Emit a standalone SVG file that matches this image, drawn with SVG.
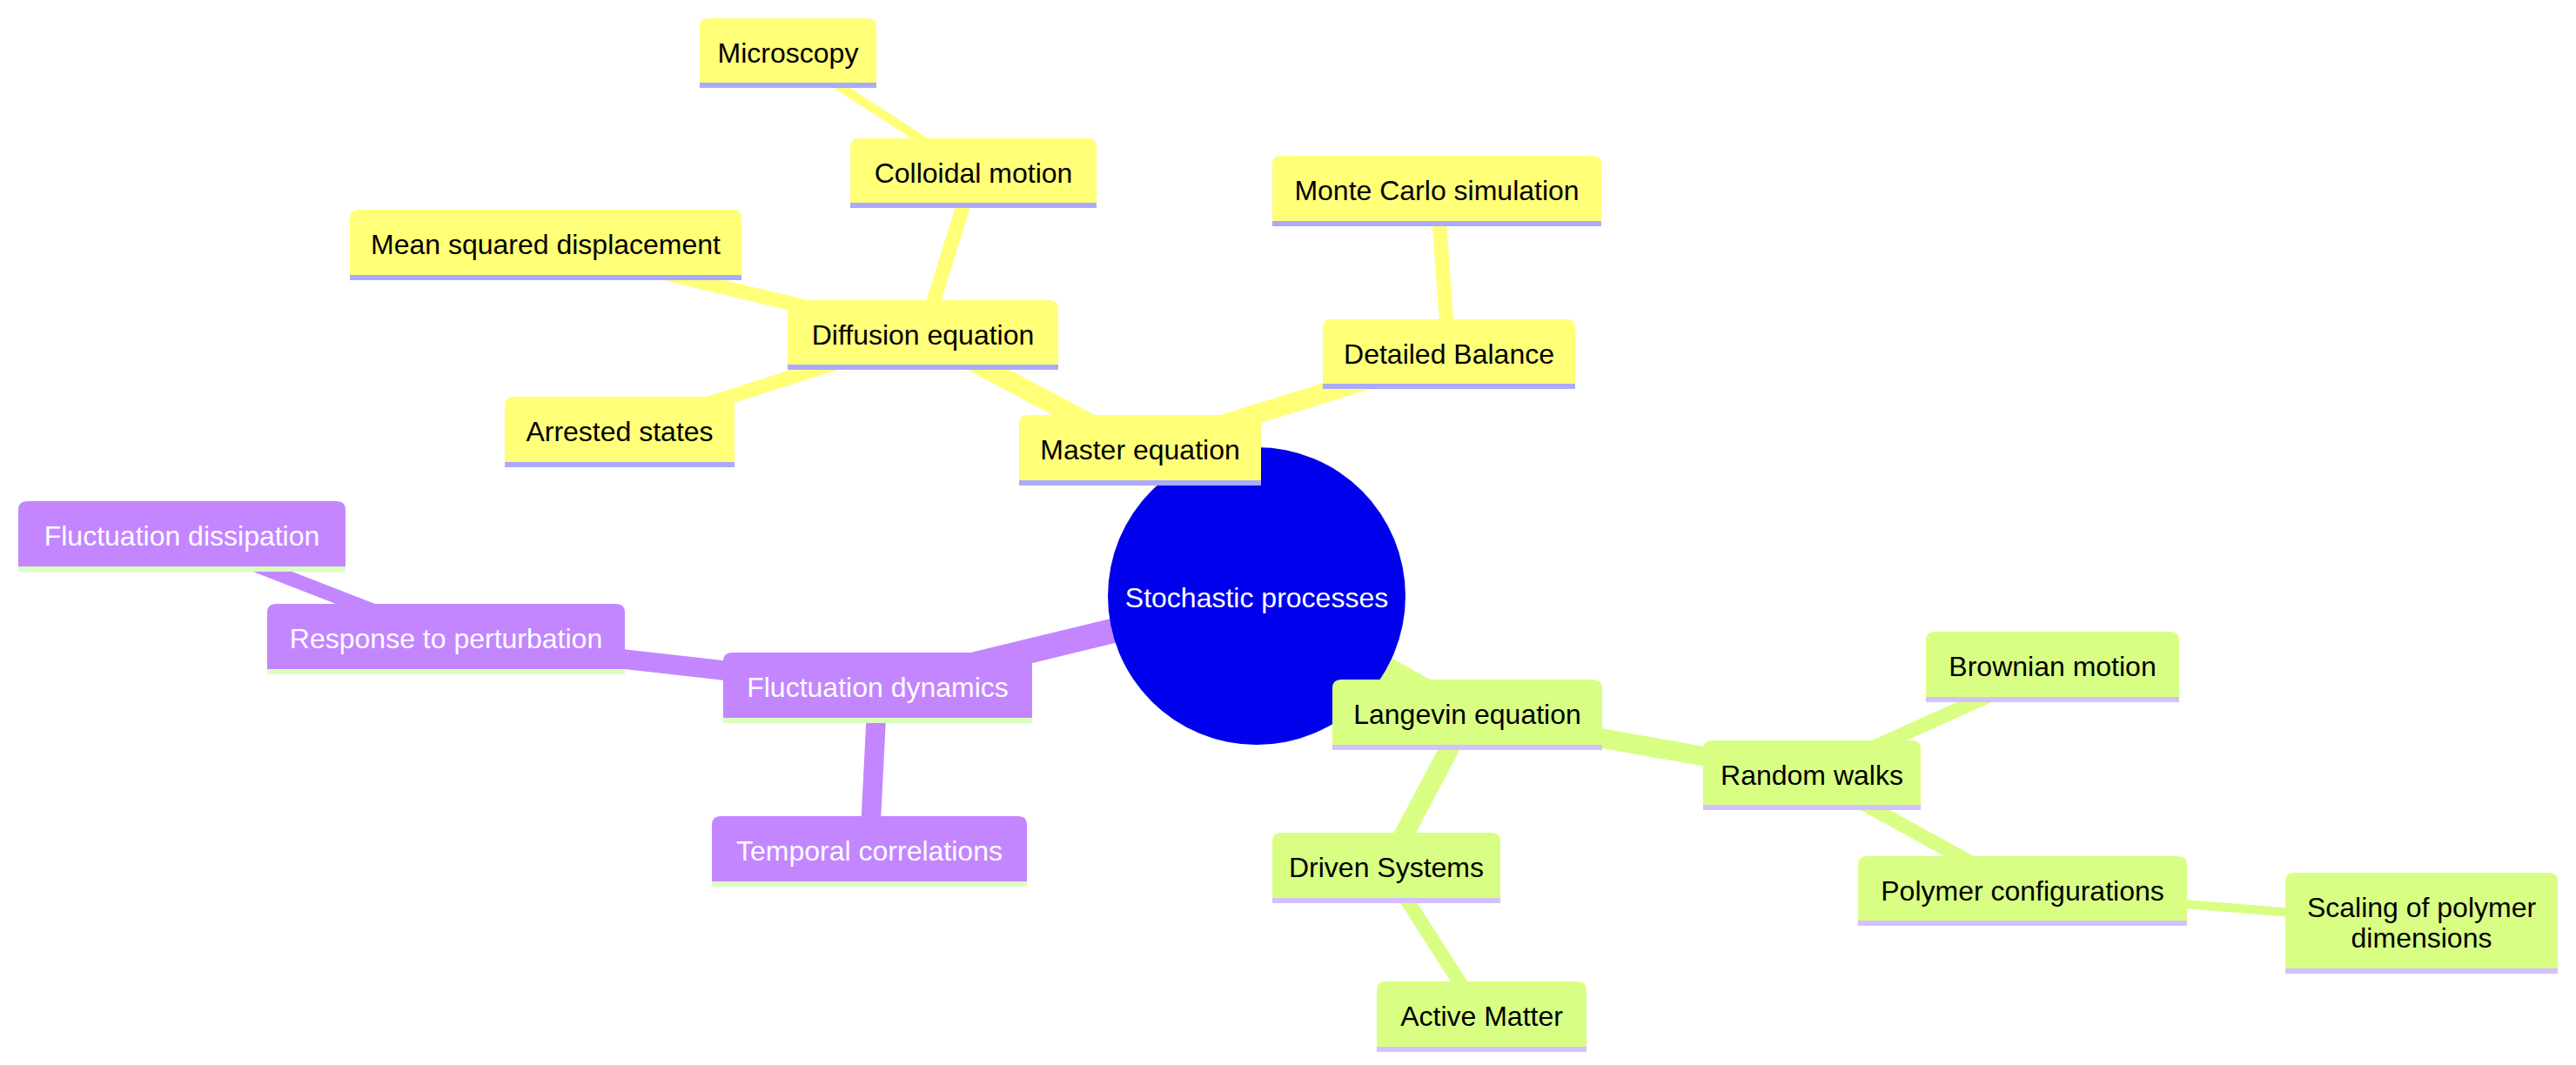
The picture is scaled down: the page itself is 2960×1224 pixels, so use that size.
<svg xmlns="http://www.w3.org/2000/svg" width="2960" height="1224" viewBox="0 0 2960 1224">
<style>
  text { font-family: "Liberation Sans", Arial, sans-serif; font-size: 32px; text-anchor: middle; }
  .y path { fill: #ffff78; } .y rect { fill: #aaaaff; } .y text { fill: #000000; }
  .p path { fill: #c386ff; } .p rect { fill: #dcffc0; } .p text { fill: #ffffff; }
  .g path { fill: #d8ff84; } .g rect { fill: #d3c1ff; } .g text { fill: #000000; }
  .root circle { fill: #0000ec; } .root text { fill: #ffffff; }
  .e { fill: none; stroke-linecap: butt; }
  .ey { stroke: #ffff78; } .ep { stroke: #c386ff; } .eg { stroke: #d8ff84; }
  .d0 { stroke-width: 28.5; } .d1 { stroke-width: 22.5; } .d2 { stroke-width: 16.3; } .d3 { stroke-width: 10.2; }
</style>
<rect width="2960" height="1224" fill="#ffffff"/>
<g id="connectors">
  <line class="e ey d0" x1="1444" y1="685" x2="1310" y2="517.5"/>
  <line class="e ep d0" x1="1444" y1="685" x2="1008.5" y2="790.5"/>
  <line class="e eg d0" x1="1444" y1="685" x2="1686" y2="821.5"/>
  <line class="e ey d1" x1="1310" y1="517.5" x2="1060.5" y2="385"/>
  <line class="e ey d1" x1="1310" y1="517.5" x2="1665" y2="407"/>
  <line class="e ep d1" x1="1008.5" y1="790.5" x2="512.5" y2="734.5"/>
  <line class="e ep d1" x1="1008.5" y1="790.5" x2="999" y2="978.5"/>
  <line class="e eg d1" x1="1686" y1="821.5" x2="2082" y2="891"/>
  <line class="e eg d1" x1="1686" y1="821.5" x2="1593" y2="997.5"/>
  <line class="e ey d2" x1="1060.5" y1="385" x2="1118.5" y2="199"/>
  <line class="e ey d2" x1="1060.5" y1="385" x2="627" y2="281.5"/>
  <line class="e ey d2" x1="1060.5" y1="385" x2="712" y2="496.5"/>
  <line class="e ey d2" x1="1665" y1="407" x2="1651" y2="219.5"/>
  <line class="e ep d2" x1="512.5" y1="734.5" x2="209" y2="616.5"/>
  <line class="e eg d2" x1="2082" y1="891" x2="2358.5" y2="766.5"/>
  <line class="e eg d2" x1="2082" y1="891" x2="2324" y2="1024"/>
  <line class="e eg d2" x1="1593" y1="997.5" x2="1702.5" y2="1168.5"/>
  <line class="e ey d3" x1="1118.5" y1="199" x2="905.5" y2="61"/>
  <line class="e eg d3" x1="2324" y1="1024" x2="2782.5" y2="1061"/>
</g>
<g id="node-root" class="root">
  <circle cx="1444" cy="685" r="171"/>
  <text x="1444" y="698">Stochastic processes</text>
</g>
<g id="node-microscopy" class="y">
  <path d="M804 95 V31 Q804 21 814 21 H997 Q1007 21 1007 31 V95 Z"/>
  <rect x="804" y="95" width="203" height="6"/>
  <text x="905.5" y="72">Microscopy</text>
</g>
<g id="node-colloidal" class="y">
  <path d="M977 233 V169 Q977 159 987 159 H1250 Q1260 159 1260 169 V233 Z"/>
  <rect x="977" y="233" width="283" height="6"/>
  <text x="1118.5" y="210">Colloidal motion</text>
</g>
<g id="node-msd" class="y">
  <path d="M402 316 V251 Q402 241 412 241 H842 Q852 241 852 251 V316 Z"/>
  <rect x="402" y="316" width="450" height="6"/>
  <text x="627" y="292">Mean squared displacement</text>
</g>
<g id="node-diffusion" class="y">
  <path d="M905 419 V355 Q905 345 915 345 H1206 Q1216 345 1216 355 V419 Z"/>
  <rect x="905" y="419" width="311" height="6"/>
  <text x="1060.5" y="396">Diffusion equation</text>
</g>
<g id="node-arrested" class="y">
  <path d="M580 531 V466 Q580 456 590 456 H834 Q844 456 844 466 V531 Z"/>
  <rect x="580" y="531" width="264" height="6"/>
  <text x="712" y="507">Arrested states</text>
</g>
<g id="node-master" class="y">
  <path d="M1171 552 V487 Q1171 477 1181 477 H1439 Q1449 477 1449 487 V552 Z"/>
  <rect x="1171" y="552" width="278" height="6"/>
  <text x="1310" y="528">Master equation</text>
</g>
<g id="node-detailed" class="y">
  <path d="M1520 441 V377 Q1520 367 1530 367 H1800 Q1810 367 1810 377 V441 Z"/>
  <rect x="1520" y="441" width="290" height="6"/>
  <text x="1665" y="418">Detailed Balance</text>
</g>
<g id="node-montecarlo" class="y">
  <path d="M1462 254 V189 Q1462 179 1472 179 H1830 Q1840 179 1840 189 V254 Z"/>
  <rect x="1462" y="254" width="378" height="6"/>
  <text x="1651" y="230">Monte Carlo simulation</text>
</g>
<g id="node-flucdiss" class="p">
  <path d="M21 651 V586 Q21 576 31 576 H387 Q397 576 397 586 V651 Z"/>
  <rect x="21" y="651" width="376" height="6"/>
  <text x="209" y="627">Fluctuation dissipation</text>
</g>
<g id="node-response" class="p">
  <path d="M307 769 V704 Q307 694 317 694 H708 Q718 694 718 704 V769 Z"/>
  <rect x="307" y="769" width="411" height="6"/>
  <text x="512.5" y="745">Response to perturbation</text>
</g>
<g id="node-flucdyn" class="p">
  <path d="M831 825 V760 Q831 750 841 750 H1176 Q1186 750 1186 760 V825 Z"/>
  <rect x="831" y="825" width="355" height="6"/>
  <text x="1008.5" y="801">Fluctuation dynamics</text>
</g>
<g id="node-temporal" class="p">
  <path d="M818 1013 V948 Q818 938 828 938 H1170 Q1180 938 1180 948 V1013 Z"/>
  <rect x="818" y="1013" width="362" height="6"/>
  <text x="999" y="989">Temporal correlations</text>
</g>
<g id="node-langevin" class="g">
  <path d="M1531 856 V791 Q1531 781 1541 781 H1831 Q1841 781 1841 791 V856 Z"/>
  <rect x="1531" y="856" width="310" height="6"/>
  <text x="1686" y="832">Langevin equation</text>
</g>
<g id="node-brownian" class="g">
  <path d="M2213 801 V736 Q2213 726 2223 726 H2494 Q2504 726 2504 736 V801 Z"/>
  <rect x="2213" y="801" width="291" height="6"/>
  <text x="2358.5" y="777">Brownian motion</text>
</g>
<g id="node-random" class="g">
  <path d="M1957 925 V861 Q1957 851 1967 851 H2197 Q2207 851 2207 861 V925 Z"/>
  <rect x="1957" y="925" width="250" height="6"/>
  <text x="2082" y="902">Random walks</text>
</g>
<g id="node-driven" class="g">
  <path d="M1462 1032 V967 Q1462 957 1472 957 H1714 Q1724 957 1724 967 V1032 Z"/>
  <rect x="1462" y="1032" width="262" height="6"/>
  <text x="1593" y="1008">Driven Systems</text>
</g>
<g id="node-polymer" class="g">
  <path d="M2135 1058 V994 Q2135 984 2145 984 H2503 Q2513 984 2513 994 V1058 Z"/>
  <rect x="2135" y="1058" width="378" height="6"/>
  <text x="2324" y="1035">Polymer configurations</text>
</g>
<g id="node-scaling" class="g">
  <path d="M2626 1113 V1013 Q2626 1003 2636 1003 H2929 Q2939 1003 2939 1013 V1113 Z"/>
  <rect x="2626" y="1113" width="313" height="6"/>
  <text x="2782.5" y="1054">Scaling of polymer</text>
  <text x="2782.5" y="1089">dimensions</text>
</g>
<g id="node-active" class="g">
  <path d="M1582 1203 V1138 Q1582 1128 1592 1128 H1813 Q1823 1128 1823 1138 V1203 Z"/>
  <rect x="1582" y="1203" width="241" height="6"/>
  <text x="1702.5" y="1179">Active Matter</text>
</g>
</svg>
